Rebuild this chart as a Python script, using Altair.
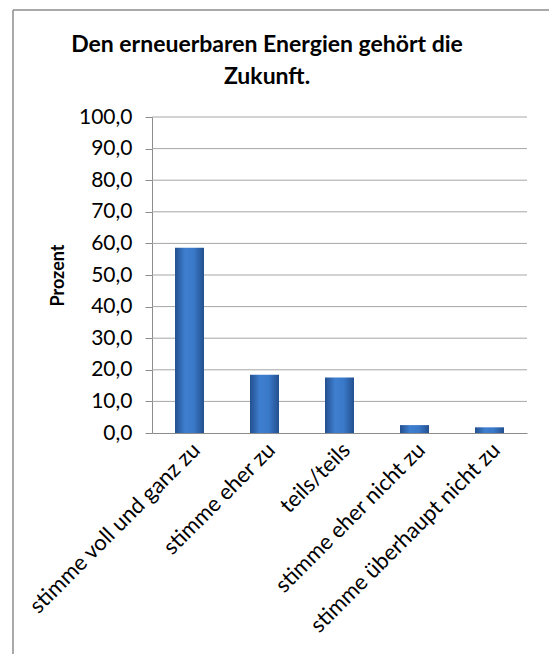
import altair as alt
import pandas as pd

categories = ["stimme voll und ganz zu", "stimme eher zu", "teils/teils",
              "stimme eher nicht zu", "stimme überhaupt nicht zu"]
values = [58.6, 18.4, 17.6, 2.5, 1.8]
y_ticks = [0, 10, 20, 30, 40, 50, 60, 70, 80, 90, 100]
title_line1 = "Den erneuerbaren Energien gehört die"
title_line2 = "Zukunft."
y_title = "Prozent"

df = pd.DataFrame({"cat": categories, "val": values})
gdf = pd.DataFrame({"val": y_ticks[1:]})

FONT = "Lato"
W, H = 375, 316

bar_grad = alt.Gradient(
    gradient="linear",
    stops=[
        alt.GradientStop(color="#23508f", offset=0),
        alt.GradientStop(color="#3f7fd0", offset=0.35),
        alt.GradientStop(color="#3a78c8", offset=0.65),
        alt.GradientStop(color="#23508f", offset=1),
    ],
    x1=0, x2=1, y1=0, y2=0,
)

yscale = alt.Scale(domain=[0, 100], nice=False)
yaxis = alt.Axis(values=y_ticks,
                 labelExpr="replace(format(datum.value, '.1f'), '.', ',')",
                 labelFont=FONT, labelFontSize=21, labelColor="#000000",
                 labelPadding=13, tickColor="#8c8c8c", tickSize=7,
                 labelOverlap=False,
                 domainColor="#8c8c8c", grid=False,
                 titleFont=FONT, titleFontSize=18, titleFontWeight="bold",
                 titleColor="#000000", titlePadding=11)
one = pd.DataFrame({"a": [0]})

frame_left = alt.Chart(one).mark_rule(color="#8c8c8c", strokeWidth=1.5).encode(
    x=alt.value(-139), y=alt.value(-107), y2=alt.value(560),
)
frame_top = alt.Chart(one).mark_rule(color="#8c8c8c", strokeWidth=1.5).encode(
    y=alt.value(-107), x=alt.value(-139), x2=alt.value(420),
)

grid = alt.Chart(gdf).mark_rule(color="#a6a6a6", strokeWidth=1).encode(
    y=alt.Y("val:Q", title=y_title, scale=yscale, axis=yaxis),
    x=alt.value(0), x2=alt.value(W),
)


def title_text(line, ypos):
    return alt.Chart(pd.DataFrame({"t": [line]})).mark_text(
        font=FONT, fontSize=23, fontWeight="bold", color="#000000",
        align="center", baseline="alphabetic",
    ).encode(text="t:N", x=alt.value(115), y=alt.value(ypos))


t1 = title_text(title_line1, -65)
t2 = title_text(title_line2, -33)

bars = alt.Chart(df).mark_bar(color=bar_grad, size=29).encode(
    x=alt.X("cat:N", sort=categories, title=None,
            scale=alt.Scale(paddingInner=0.6, paddingOuter=0.3),
            axis=alt.Axis(labelAngle=-45, labelFont=FONT, labelFontSize=22,
                          labelColor="#000000", labelPadding=6,
                          domainColor="#8c8c8c", ticks=False,
                          labelLimit=400, labelOverlap=False)),
    y=alt.Y("val:Q", title=y_title, scale=yscale, axis=yaxis),
)

chart = alt.layer(grid, bars, frame_left, frame_top, t1, t2).properties(
    width=W, height=H,
    background="#ffffff",
    padding={"left": 152, "top": 117, "right": 22, "bottom": 221},
    autosize=alt.AutoSizeParams(type="none"),
).configure_view(stroke=None, strokeWidth=0)

chart.save("out.html", embed_options={"renderer": "svg", "actions": False})
